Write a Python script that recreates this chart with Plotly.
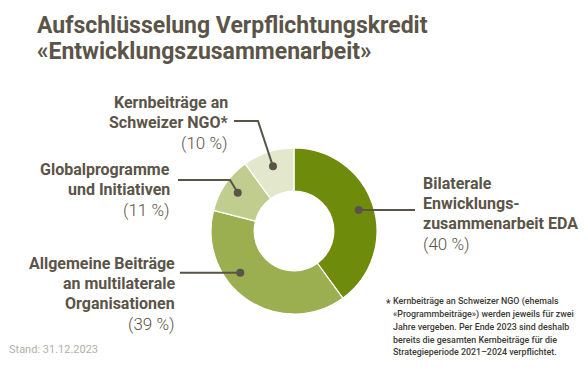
import math
import plotly.graph_objects as go

# ---- data ----
categories = ["Bilaterale Entwicklungszusammenarbeit EDA",
              "Allgemeine Beiträge an multilaterale Organisationen",
              "Globalprogramme und Initiativen",
              "Kernbeiträge an Schweizer NGO*"]
values = [40, 39, 11, 10]
label_lines = [["Bilaterale", "Enwicklungs-", "zusammenarbeit EDA"],
               ["Allgemeine Beiträge", "an multilaterale", "Organisationen"],
               ["Globalprogramme", "und Initiativen"],
               ["Kernbeiträge an", "Schweizer NGO*"]]
title_lines = ["Aufschlüsselung Verpflichtungskredit", "«Entwicklungszusammenarbeit»"]
source_text = "Stand: 31.12.2023"
footnote_lines = ["Kernbeiträge an Schweizer NGO (ehemals",
                  "«Programmbeiträge») werden jeweils für zwei",
                  "Jahre vergeben. Per Ende 2023 sind deshalb",
                  "bereits die gesamten Kernbeiträge für die",
                  "Strategieperiode 2021–2024 verpflichtet."]

# ---- style / layout ----
# the page body has an 8px margin, so the figure is 8px smaller and offset
OFF = 8
W, H = 588 - OFF, 368 - OFF
colors = ["#6f8b0c", "#9bae50", "#c1cc8f", "#e3e8cd"]
TXT = "#5b5448"
LINE = "#5a5448"
FONT = "Roboto, sans-serif"
CX, CY, R, HOLE = 294, 231, 83, 0.48
DOT_R = 68


def px(x):
    return (x - OFF) / W


def py(y):
    return 1 - (y - OFF) / H


fig = go.Figure(go.Pie(
    labels=categories, values=values, sort=False, direction="clockwise",
    rotation=0, hole=HOLE, textinfo="none", hoverinfo="label+percent",
    marker=dict(colors=colors, line=dict(color="white", width=1.2)),
    domain=dict(x=[px(CX - R), px(CX + R)], y=[py(CY + R), py(CY - R)]),
    showlegend=False,
))

annotations = []
shapes = []


def add_text(x, baseline, text, size, anchor, weight="bold", color=TXT):
    annotations.append(dict(
        x=px(x), y=py(baseline - 0.35 * size), xref="paper", yref="paper",
        text=text, showarrow=False, xanchor=anchor, yanchor="middle",
        font=dict(family=FONT, size=size, color=color, weight=weight), borderpad=0))


# title
for i, t in enumerate(title_lines):
    add_text(36, 34 + i * 26, t, 23, "left")

# dots from slice geometry
total = sum(values)
angle_offset = [0, 18, 0, 0]
dots = []
cum = 0
for v, off in zip(values, angle_offset):
    th = math.radians((cum + v / 2) / total * 360 + off)
    cum += v
    dots.append((CX + DOT_R * math.sin(th), CY - DOT_R * math.cos(th)))

# label placement (x, anchor, first baseline, leader path after dot)
LS = 16
PITCH = 20
specs = [
    (422, "left", 189, lambda d: [(415, d[1])]),
    (176, "right", 269, lambda d: [(180, d[1])]),
    (171, "right", 175, lambda d: [(230, 180), (178, 180)]),
    (229, "right", 108, lambda d: [(258, 121), (234, 121)]),
]

for i, (x, anc, b0, path) in enumerate(specs):
    lines = label_lines[i]
    for j, ln in enumerate(lines):
        add_text(x, b0 + j * PITCH, ln, LS, anc)
    add_text(x, b0 + len(lines) * PITCH + 1, "(%d %%)" % values[i], LS + 1, anc, weight=300)
    d = dots[i]
    pts = [d] + path(d)
    p = "M %f %f " % (px(pts[0][0]), py(pts[0][1]))
    p += " ".join("L %f %f" % (px(a), py(b)) for a, b in pts[1:])
    shapes.append(dict(type="path", path=p, xref="paper", yref="paper",
                       line=dict(color=LINE, width=2)))
    rr = 4
    shapes.append(dict(type="circle", xref="paper", yref="paper",
                       x0=px(d[0] - rr), x1=px(d[0] + rr), y0=py(d[1] + rr), y1=py(d[1] - rr),
                       fillcolor=LINE, line=dict(width=0)))

# source
add_text(8, 353, source_text, 11, "left", weight="normal", color="#b3afa8")

# footnote
add_text(385, 307, "*", 10, "left", weight="bold", color="#3d3a35")
for j, ln in enumerate(footnote_lines):
    add_text(392, 305 + j * 12.6, ln, 8.9, "left", weight=500, color="#3d3a35")

fig.update_layout(
    width=W, height=H, margin=dict(l=0, r=0, t=0, b=0),
    paper_bgcolor="white", plot_bgcolor="white",
    annotations=annotations, shapes=shapes,
)
fig.write_html("out.html")
